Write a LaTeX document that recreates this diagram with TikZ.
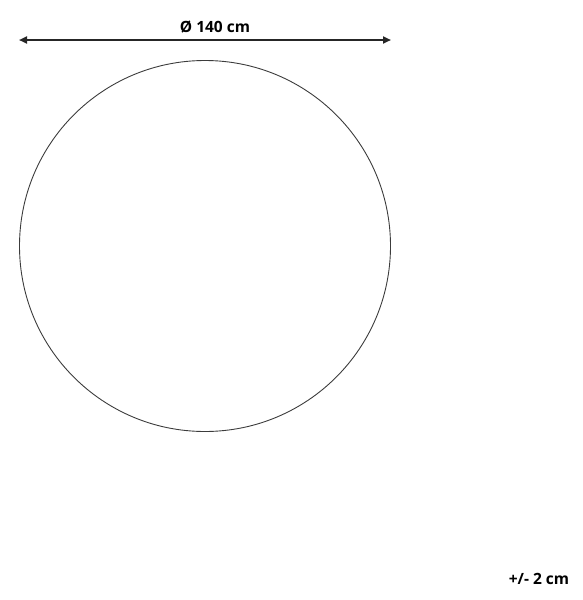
\documentclass[tikz,border=0pt]{standalone}
\usepackage{fontspec}
\setmainfont{Open Sans}
\usepackage{tikz}
\usetikzlibrary{positioning,arrows.meta}
\definecolor{rugline}{RGB}{60, 60, 60}

\begin{document}
\begin{tikzpicture}[
    x=1pt, y=-1pt,
    label/.style={font=\fontsize{15.5}{18}\selectfont\bfseries, inner sep=0pt},
    dimension/.style={{Triangle[length=8pt, width=7pt]}-{Triangle[length=8pt, width=7pt]}, line width=2pt, black!85},
    rug/.style={circle, draw=rugline, line width=0.9pt, minimum size=371pt, inner sep=0pt}
]
    \useasboundingbox (0, 0) rectangle (583, 600);

    % Rug outline
    \node[rug] (rug) at (205, 246) {};

    % Diameter
    \coordinate (dl) at (19, 40);
    \coordinate (dr) at (391, 40);
    \draw[dimension] (dl) -- (dr);
    \node[label] (diam) at (215, 27) {Ø 140 cm};

    % Tolerance
    \node[label] (tol) at (539, 579) {+/- 2 cm};
\end{tikzpicture}
\end{document}
